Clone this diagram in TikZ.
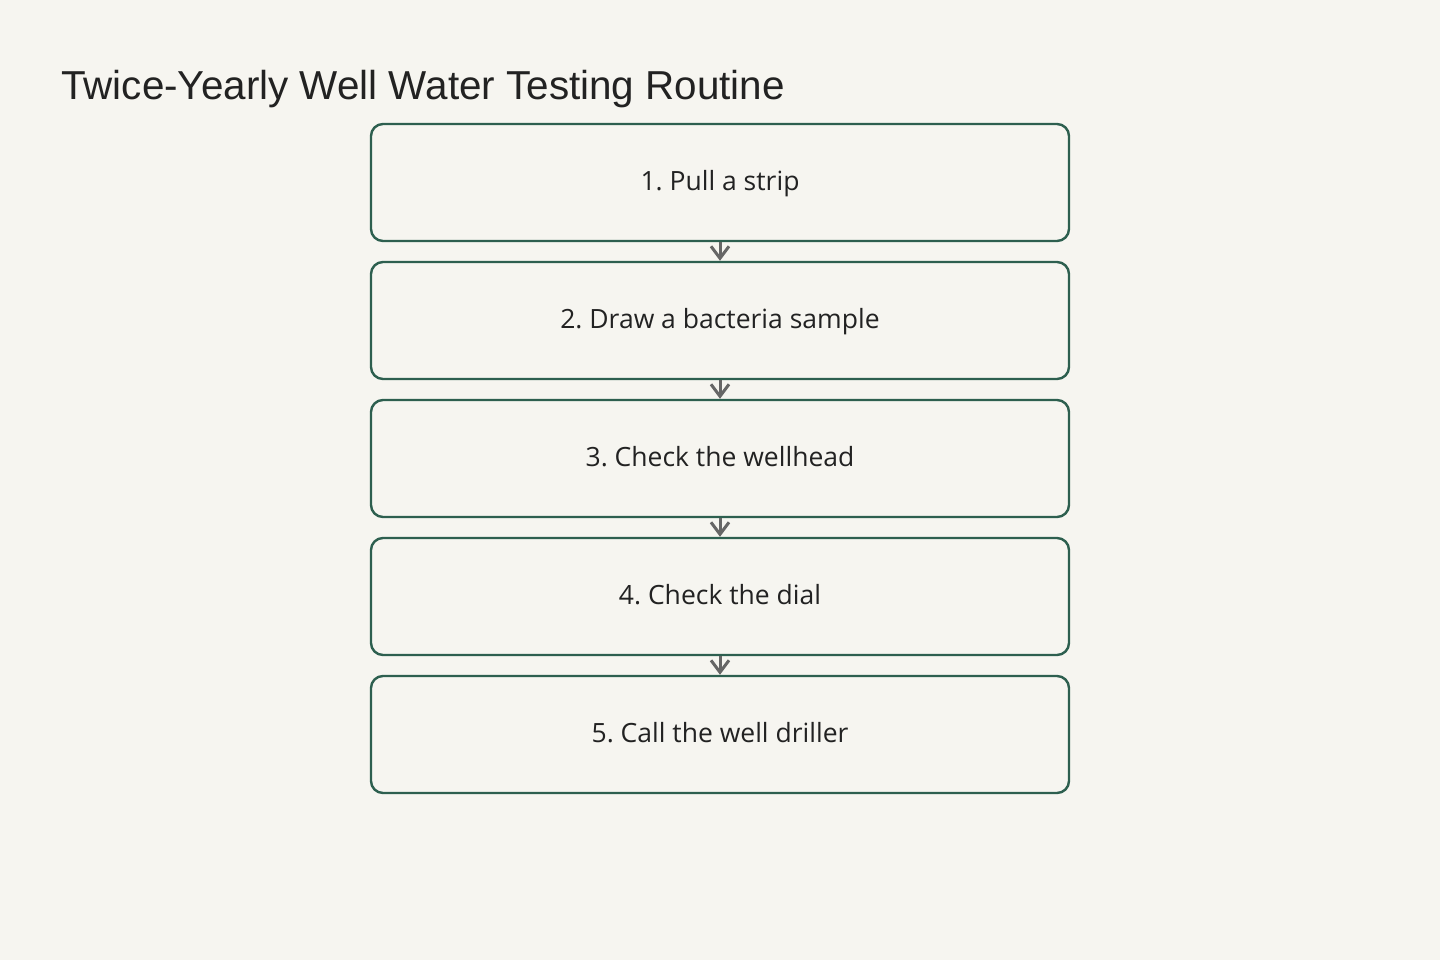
\documentclass[tikz,border=0pt]{standalone}
\usepackage{fontspec}
\setmainfont{Liberation Sans}
\newfontfamily\stepfont{Open Sans}
\usetikzlibrary{arrows.meta}
\frenchspacing

\definecolor{paper}{HTML}{F6F5F0}
\definecolor{boxline}{HTML}{2D5F4F}
\definecolor{ink}{HTML}{222222}
\definecolor{arrowgray}{HTML}{666666}

\begin{document}
\begin{tikzpicture}[x=1pt, y=-1pt,
  step box/.style={rectangle, rounded corners=12pt, draw=boxline, line width=2.4pt,
    fill=paper, minimum width=698pt, minimum height=117pt, text=ink,
    text height=22pt, text depth=6pt,
    font=\stepfont\fontsize{26.5}{30}\selectfont},
  flow arrow/.style={draw=arrowgray, line width=3pt,
    -{Straight Barb[length=12pt, width=18pt, line width=3pt]}}]
% page
\fill[paper] (0,0) rectangle (1440,960);
\useasboundingbox (0,0) rectangle (1440,960);

% title
\node[anchor=base west, inner sep=0pt, text=ink, font=\fontsize{40.4}{48}\selectfont] (title) at (61,100) {Twice-Yearly Well Water Testing Routine};

% steps
\node[step box] (s1) at (720,182.5) {1. Pull a strip};

\node[step box] (s2) at (720,320.5) {2. Draw a bacteria sample};

\node[step box] (s3) at (720,458.5) {3. Check the wellhead};

\node[step box] (s4) at (720,596.5) {4. Check the dial};

\node[step box] (s5) at (720,734.5) {5. Call the well driller};

% step -> step
\draw[flow arrow] (s1.south) -- (s2.north);
\draw[flow arrow] (s2.south) -- (s3.north);
\draw[flow arrow] (s3.south) -- (s4.north);
\draw[flow arrow] (s4.south) -- (s5.north);

\end{tikzpicture}
\end{document}
